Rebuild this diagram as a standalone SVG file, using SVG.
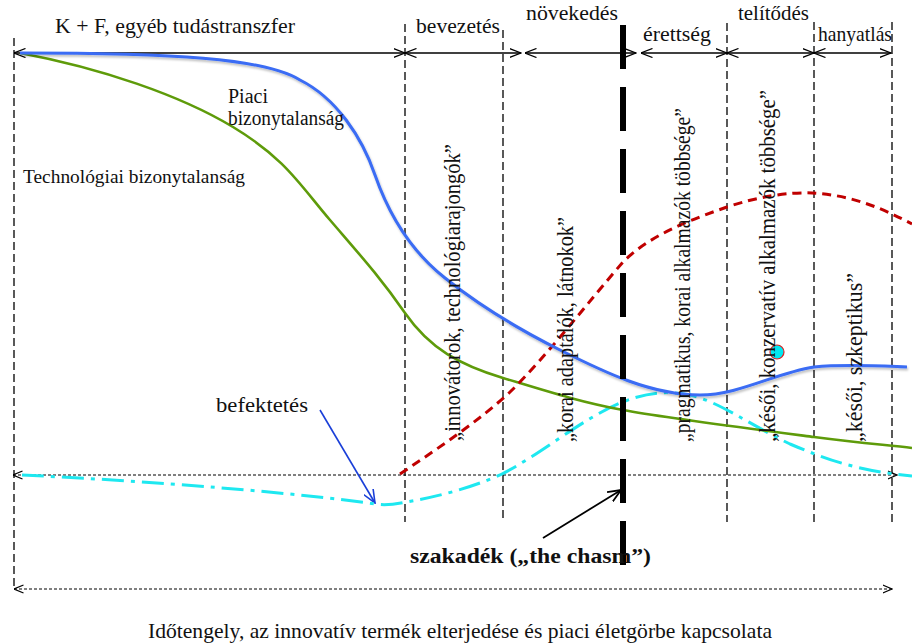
<svg xmlns="http://www.w3.org/2000/svg" width="912" height="644" viewBox="0 0 912 644">
<style>
text{font-family:"Liberation Serif","Times New Roman",serif;fill:#111}
.vd{stroke:#000;stroke-width:1.3;stroke-dasharray:8 4;fill:none}
.ar{stroke:#000;stroke-width:1.3;fill:none;marker-start:url(#ah);marker-end:url(#ah)}
.dl{stroke:#000;stroke-width:1;stroke-dasharray:3 2;fill:none;marker-start:url(#sh);marker-end:url(#sh)}
.lab{font-size:22px}
.rot{font-size:24px}
</style>
<defs>
<marker id="ah" viewBox="0 0 12 10" refX="11.5" refY="5" markerWidth="12" markerHeight="10" markerUnits="userSpaceOnUse" orient="auto-start-reverse"><path d="M0,0.5 L11.5,5 L0,9.5" fill="none" stroke="#000" stroke-width="1.3"/></marker>
<marker id="sh" viewBox="0 0 10 10" refX="9.5" refY="5" markerWidth="10" markerHeight="10" markerUnits="userSpaceOnUse" orient="auto-start-reverse"><path d="M0,1 L9.5,5 L0,9" fill="none" stroke="#000" stroke-width="1.2"/></marker>
<marker id="bk" viewBox="0 0 14 12" refX="13" refY="6" markerWidth="14" markerHeight="12" markerUnits="userSpaceOnUse" orient="auto"><path d="M0,0.5 L13,6 L0,11.5" fill="none" stroke="#000" stroke-width="1.8"/></marker>
<marker id="bl" viewBox="0 0 14 12" refX="13" refY="6" markerWidth="14" markerHeight="12" markerUnits="userSpaceOnUse" orient="auto"><path d="M0,0.5 L13,6 L0,11.5" fill="none" stroke="#1a3fd8" stroke-width="1.6"/></marker>
<filter id="sd" x="-5%" y="-5%" width="110%" height="115%"><feDropShadow dx="1" dy="2" stdDeviation="1.3" flood-color="#000" flood-opacity="0.25"/></filter>
</defs>
<rect width="912" height="644" fill="#fff"/>

<g id="grid">
<line class="vd" x1="14" y1="38" x2="14" y2="589"/>
<line class="vd" x1="405" y1="24" x2="405" y2="522"/>
<line class="vd" x1="503" y1="30" x2="503" y2="522"/>
<line class="vd" x1="727" y1="23" x2="727" y2="522"/>
<line class="vd" x1="814" y1="22" x2="814" y2="522"/>
<line class="vd" x1="892" y1="22" x2="892" y2="522"/>
</g>

<g id="connectors">
<line class="ar" x1="14" y1="53" x2="405" y2="53"/>
<line class="ar" x1="405" y1="53" x2="521" y2="53"/>
<line class="ar" x1="525" y1="53" x2="636" y2="53"/>
<line class="ar" x1="641" y1="53" x2="727" y2="53"/>
<line class="ar" x1="727" y1="53" x2="814" y2="53"/>
<line class="ar" x1="814" y1="53" x2="891" y2="53"/>
<line class="dl" x1="13" y1="475" x2="897" y2="475"/>
<line class="dl" x1="14" y1="589" x2="892" y2="589"/>
<line x1="543" y1="538" x2="621" y2="490" stroke="#000" stroke-width="1.8" marker-end="url(#bk)"/>
<line x1="320" y1="410" x2="375" y2="503" stroke="#1a3fd8" stroke-width="1.6" marker-end="url(#bl)"/>
</g>

<g id="curves">
<path id="invest" d="M22,475 C150,481 300,493 375,504 C390,506 400,503 412,501 C440,496 470,488 500,475 C540,455 580,420 620,403 C645,393 665,390 690,395 C720,402 750,425 790,444 C830,461 860,471 912,476" fill="none" stroke="#1ee8f0" stroke-width="3" stroke-dasharray="22 7 4 7"/>
<path id="techUnc" d="M20,53 C100,68 180,95 233,127 S300,185 330,220 S380,277 405,313 S460,365 503,378 S580,402 623,410 S760,430 814,437 S890,445 912,448" fill="none" stroke="#5e9b0a" stroke-width="2.6"/>
<path id="market" d="M400,474 C440,447 480,420 510,392 C545,358 590,300 623,262 C650,235 690,220 727,207 C760,196 790,192 812,193 C850,195 880,207 912,224" fill="none" stroke="#c00000" stroke-width="3" stroke-dasharray="9 6"/>
<path id="marketUnc" filter="url(#sd)" d="M20,53 C170,53 265,58 300,80 C336,98 362,137 375,175 C389,215 412,252 445,278 C480,306 520,330 560,350 C604,372 651,395 700,395 C739,395 775,373 814,367 C845,364 880,366 907,367" fill="none" stroke="#3a6cf4" stroke-width="3"/>
</g>

<g id="chasm">
<line x1="623" y1="25" x2="623" y2="567" stroke="#000" stroke-width="6" stroke-dasharray="44 18"/>
</g>

<g id="marker-dot">
<circle cx="777" cy="352" r="7" fill="#00e8f0" stroke="#e02020" stroke-width="1.2"/>
</g>

<g id="phase-labels">
<text class="lab" x="55" y="33" textLength="240" lengthAdjust="spacingAndGlyphs">K + F, egyéb tudástranszfer</text>
<text class="lab" x="416" y="33" textLength="84" lengthAdjust="spacingAndGlyphs">bevezetés</text>
<text class="lab" x="526" y="20" textLength="92" lengthAdjust="spacingAndGlyphs">növekedés</text>
<text class="lab" x="643" y="41" textLength="68" lengthAdjust="spacingAndGlyphs">érettség</text>
<text class="lab" x="738" y="20" textLength="71" lengthAdjust="spacingAndGlyphs">telítődés</text>
<text class="lab" x="818" y="41" textLength="74" lengthAdjust="spacingAndGlyphs">hanyatlás</text>
</g>

<g id="curve-labels">
<text x="228" y="103" style="font-size:20px">Piaci</text>
<text x="228" y="125" style="font-size:20px" textLength="116" lengthAdjust="spacingAndGlyphs">bizonytalanság</text>
<text x="23" y="183" style="font-size:19px" textLength="222" lengthAdjust="spacingAndGlyphs">Technológiai bizonytalanság</text>
<text x="216" y="412" class="lab" textLength="92" lengthAdjust="spacingAndGlyphs">befektetés</text>
<text x="410" y="563" style="font-size:22px;font-weight:bold" textLength="241" lengthAdjust="spacingAndGlyphs">szakadék („the chasm”)</text>
</g>

<g id="adopter-labels">
<text class="rot" transform="translate(460,441) rotate(-90)" textLength="297" lengthAdjust="spacingAndGlyphs">„innovátorok,  technológiarajongók”</text>
<text class="rot" transform="translate(573,442) rotate(-90)" textLength="225" lengthAdjust="spacingAndGlyphs">„korai adaptálók,  látnokok”</text>
<text class="rot" transform="translate(690,442) rotate(-90)" textLength="334" lengthAdjust="spacingAndGlyphs">„pragmatikus,  korai alkalmazók többsége”</text>
<text class="rot" transform="translate(775,442) rotate(-90)" textLength="352" lengthAdjust="spacingAndGlyphs">„késői, konzervatív alkalmazók többsége”</text>
<text class="rot" transform="translate(862,442) rotate(-90)" textLength="169" lengthAdjust="spacingAndGlyphs">„késői, szkeptikus”</text>
</g>

<g id="caption">
<text x="460" y="638" text-anchor="middle" style="font-size:21px" textLength="624" lengthAdjust="spacingAndGlyphs">Időtengely, az innovatív termék elterjedése és piaci életgörbe kapcsolata</text>
</g>
</svg>
